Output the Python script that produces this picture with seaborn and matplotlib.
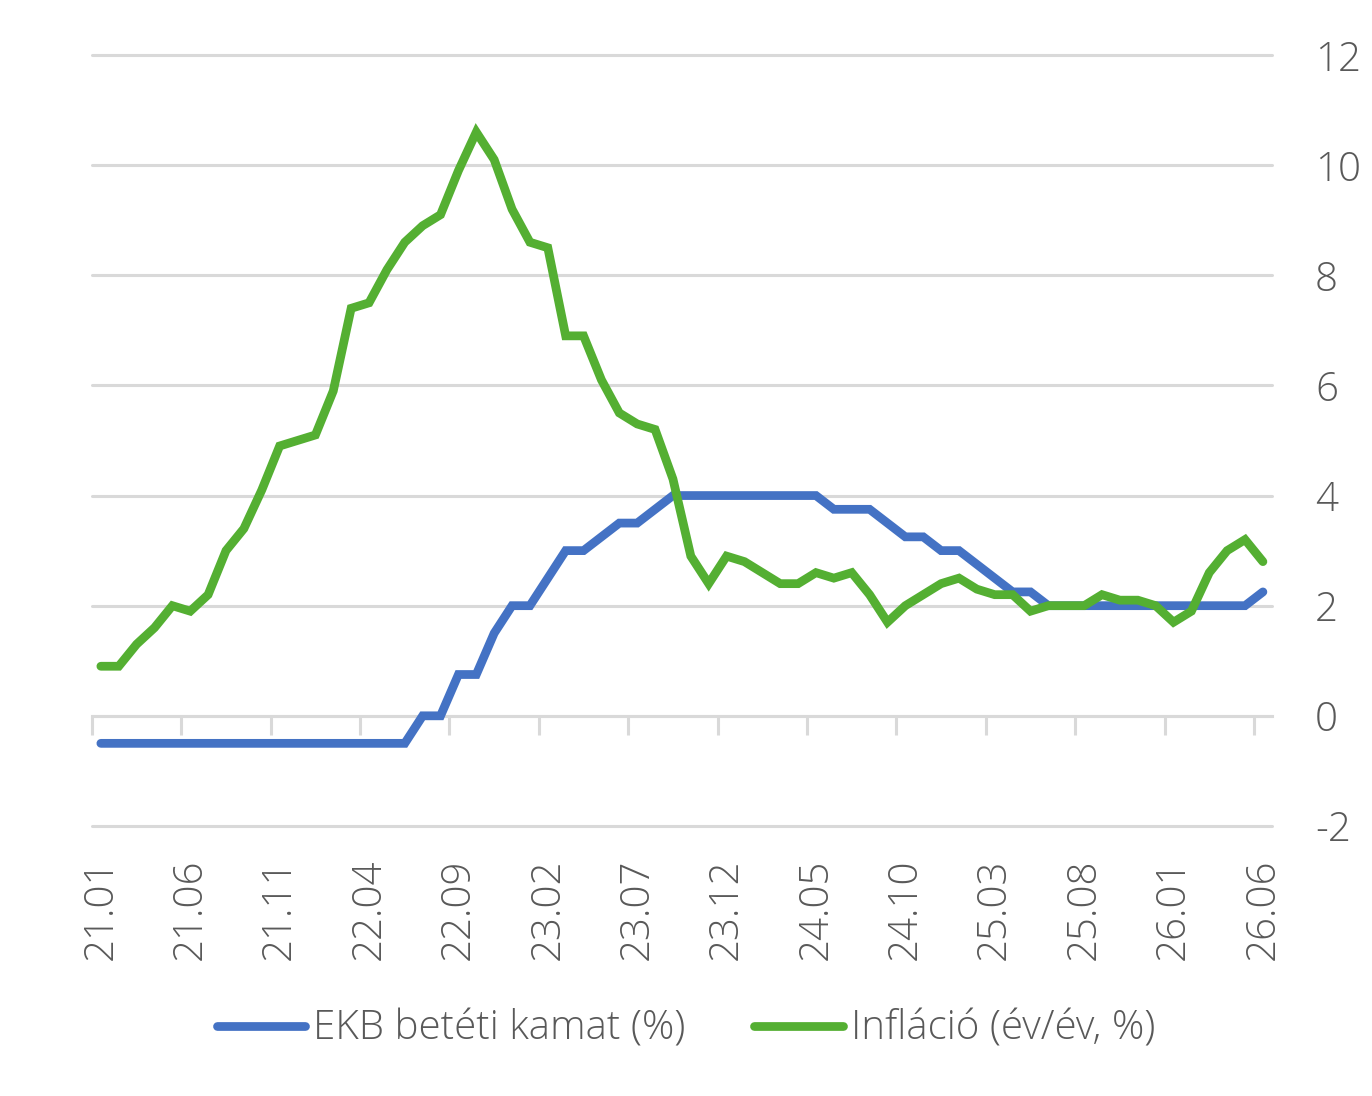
import numpy as np
import pandas as pd
import matplotlib
matplotlib.use('Agg')
import matplotlib.pyplot as plt
import seaborn as sns
from matplotlib.ticker import FixedLocator

# havi adatok 2021.01 - 2026.06
months = [f'{y:02d}.{m:02d}' for y in range(21, 27) for m in range(1, 13)][:66]

ekb_rate = [-0.5] * 18 + [
    0.0, 0.0, 0.75, 0.75, 1.5, 2.0, 2.0, 2.5, 3.0, 3.0, 3.25, 3.5, 3.5, 3.75,
    4.0, 4.0, 4.0, 4.0, 4.0, 4.0, 4.0, 4.0, 4.0,
    3.75, 3.75, 3.75, 3.5, 3.25, 3.25, 3.0, 3.0, 2.75, 2.5, 2.25, 2.25,
    2.0, 2.0, 2.0, 2.0, 2.0, 2.0, 2.0, 2.0, 2.0, 2.0, 2.0, 2.0, 2.25,
]

inflation = [
    0.9, 0.9, 1.3, 1.6, 2.0, 1.9, 2.2, 3.0, 3.4, 4.1, 4.9, 5.0,
    5.1, 5.9, 7.4, 7.5, 8.1, 8.6, 8.9, 9.1, 9.9, 10.6, 10.1, 9.2,
    8.6, 8.5, 6.9, 6.9, 6.1, 5.5, 5.3, 5.2, 4.3, 2.9, 2.4, 2.9,
    2.8, 2.6, 2.4, 2.4, 2.6, 2.5, 2.6, 2.2, 1.7, 2.0, 2.2, 2.4,
    2.5, 2.3, 2.2, 2.2, 1.9, 2.0, 2.0, 2.0, 2.2, 2.1, 2.1, 2.0,
    1.7, 1.9, 2.6, 3.0, 3.2, 2.8,
]

series_names = ['EKB betéti kamat (%)', 'Infláció (év/év, %)']
colors = ['#4472C4', '#54AF32']
y_ticks = [-2, 0, 2, 4, 6, 8, 10, 12]

df = pd.DataFrame({'idx': np.arange(len(months)),
                   series_names[0]: ekb_rate,
                   series_names[1]: inflation})
long = df.melt(id_vars='idx', var_name='sorozat', value_name='ertek')

sns.set_theme(style='white')
plt.rcParams['font.family'] = ['Open Sans', 'DejaVu Sans']
plt.rcParams['font.weight'] = 'light'
txt = '#595959'
grid = '#D9D9D9'

fig = plt.figure(figsize=(13.72, 10.96), dpi=100)
ax = fig.add_axes([0.067, 0.2464, 0.86, 0.7034])

sns.lineplot(data=long, x='idx', y='ertek', hue='sorozat', palette=colors,
             hue_order=series_names, linewidth=6.3, ax=ax, legend=False,
             solid_capstyle='round', solid_joinstyle='miter')

ax.set_xlim(-0.5, len(months) - 0.5)
ax.set_ylim(-2, 12)
ax.set_yticks(y_ticks)
ax.set_yticklabels([str(v) for v in y_ticks])
ax.yaxis.tick_right()
ax.tick_params(axis='y', length=0, pad=31, labelsize=29, labelcolor=txt)
ax.yaxis.grid(True, color=grid, linewidth=2.2)
for gl in ax.get_ygridlines():
    gl.set_clip_on(False)
ax.set_axisbelow(True)

for s in ['left', 'right', 'top']:
    ax.spines[s].set_visible(False)
ax.spines['bottom'].set_position(('data', 0))
ax.spines['bottom'].set_color(grid)
ax.spines['bottom'].set_linewidth(2.2)
ax.spines['bottom'].set_zorder(0.5)

# osztásvonalak a kategóriahatárokon, feliratok a hónapokon
ax.xaxis.set_major_locator(FixedLocator(np.arange(-0.5, len(months), 5)))
ax.xaxis.set_minor_locator(FixedLocator(np.arange(0, len(months), 5)))
ax.set_xticklabels([''] * len(ax.get_xticks()))
ax.set_xticklabels([months[i] for i in range(0, len(months), 5)], minor=True,
                   rotation=90)
ax.tick_params(axis='x', which='major', bottom=True, direction='out',
               length=14, width=2.2, color=grid)
ax.tick_params(axis='x', which='minor', bottom=True, length=0, pad=103,
               labelsize=29, labelcolor=txt)
ax.set_xlabel('')
ax.set_ylabel('')

handles = [plt.Line2D([], [], color=c, linewidth=6.3, solid_capstyle='round')
           for c in colors]
leg = fig.legend(handles, series_names, loc='center', bbox_to_anchor=(0.5, 0.061),
                 ncol=2, frameon=False, fontsize=29, handlelength=2.2,
                 handletextpad=0.2, columnspacing=1.7)
for t in leg.get_texts():
    t.set_color(txt)

fig.savefig('out.png', dpi=100)
